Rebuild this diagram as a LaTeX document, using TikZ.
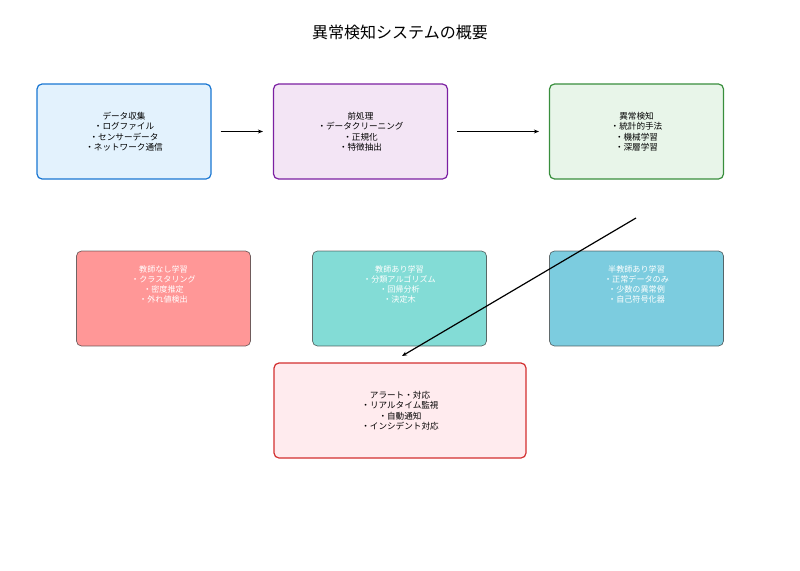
\documentclass[tikz,border=0pt]{standalone}
\usepackage{fontspec}
\setmainfont{Noto Sans CJK JP}
\usetikzlibrary{arrows.meta}
\definecolor{bluefill}{HTML}{E3F2FD}
\definecolor{blueline}{HTML}{1976D2}
\definecolor{purplefill}{HTML}{F3E5F5}
\definecolor{purpleline}{HTML}{7B1FA2}
\definecolor{greenfill}{HTML}{E8F5E9}
\definecolor{greenline}{HTML}{388E3C}
\definecolor{redfill}{HTML}{FFEBEE}
\definecolor{redline}{HTML}{D32F2F}
\definecolor{unsup}{HTML}{FF6B6B}
\definecolor{sup}{HTML}{4ECDC4}
\definecolor{semisup}{HTML}{45B7D1}
\begin{document}
\begin{tikzpicture}[x=1pt,y=-1pt,
    stage/.style={draw, rounded corners=5pt, line width=1.2pt,
      minimum width=174pt, minimum height=95pt, inner sep=0pt,
      align=center, font=\fontsize{8.6}{10.5}\selectfont},
    method/.style={draw=black!80, draw opacity=0.7, fill opacity=0.7,
      rounded corners=5pt, line width=0.7pt,
      minimum width=174pt, minimum height=95pt, inner sep=0pt},
    methodtext/.style={text=white, align=center, inner sep=0pt,
      font=\fontsize{8.1}{10}\selectfont},
    flow/.style={-{Stealth[length=5pt,width=4pt]}, line width=1.2pt}]
  \useasboundingbox (0,0) rectangle (800,570);
  \node[font=\fontsize{16}{18}\selectfont] (title) at (400,32) {異常検知システムの概要};
  % pipeline stages
  \node[stage, draw=blueline, fill=bluefill] (collect) at (124,131.5)
    {データ収集\\・ログファイル\\・センサーデータ\\・ネットワーク通信};
  \node[stage, draw=purpleline, fill=purplefill] (prep) at (360.5,131.5)
    {前処理\\・データクリーニング\\・正規化\\・特徴抽出};
  \node[stage, draw=greenline, fill=greenfill] (detect) at (636.5,131.5)
    {異常検知\\・統計的手法\\・機械学習\\・深層学習};
  % method boxes
  \node[method, fill=unsup] (unsupbox) at (163.5,298.5) {};
  \node[methodtext] (unsuptext) at (163.5,284)
    {教師なし学習\\・クラスタリング\\・密度推定\\・外れ値検出};
  \node[method, fill=sup] (supbox) at (399.5,298.5) {};
  \node[methodtext] (suptext) at (399.5,284)
    {教師あり学習\\・分類アルゴリズム\\・回帰分析\\・決定木};
  \node[method, fill=semisup] (semibox) at (636.5,298.5) {};
  \node[methodtext] (semitext) at (636.5,284)
    {半教師あり学習\\・正常データのみ\\・少数の異常例\\・自己符号化器};
  % output
  \node[stage, draw=redline, fill=redfill, minimum width=252pt] (alert) at (400,410.5)
    {アラート・対応\\・リアルタイム監視\\・自動通知\\・インシデント対応};
  % arrows
  \draw[flow, shorten <=9pt, shorten >=10pt] (collect.east) -- (prep.west);
  \draw[flow, shorten <=9pt, shorten >=10pt] (prep.east) -- (detect.west);
  \coordinate (detect below) at (636,218);
  \coordinate (alert above) at (402,356);
  \draw[flow] (detect below) -- (alert above);
\end{tikzpicture}
\end{document}
